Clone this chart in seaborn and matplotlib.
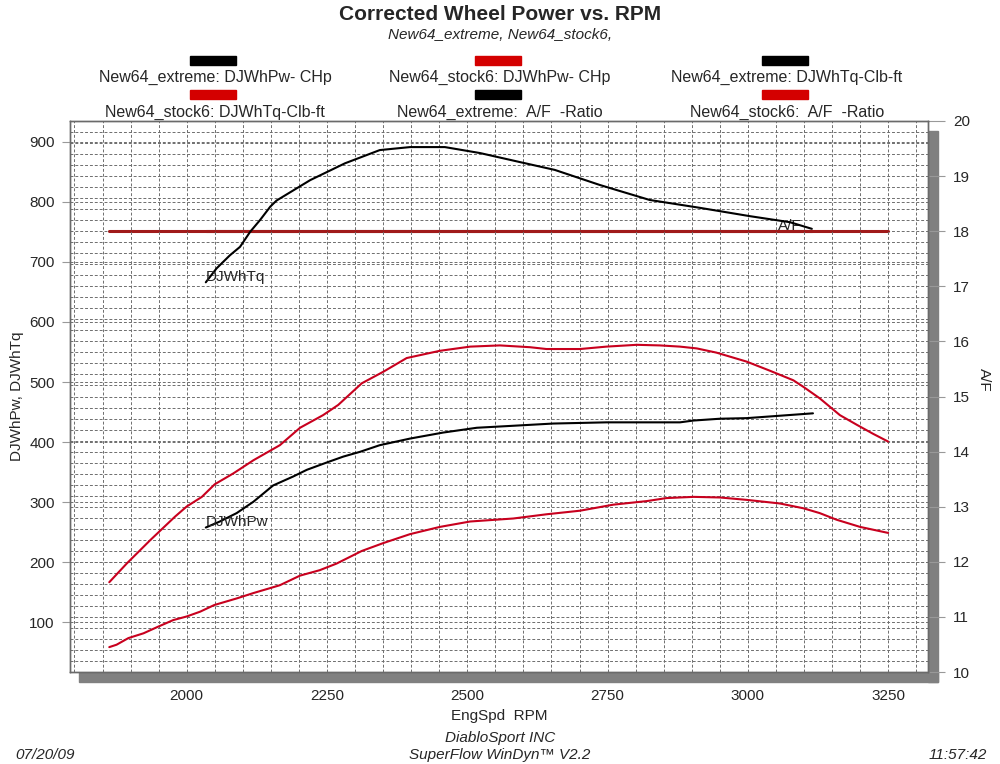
import matplotlib
matplotlib.use('Agg')
import matplotlib.pyplot as plt
import seaborn as sns
import pandas as pd
from matplotlib.ticker import MultipleLocator
from matplotlib.patches import Rectangle

# --- data ---
tq_ext_rpm = [2034, 2053, 2077, 2095, 2113, 2131, 2149, 2160, 2220, 2282, 2344, 2398,
              2460, 2523, 2594, 2656, 2736, 2825, 2914, 3004, 3075, 3114]
tq_ext = [666, 689, 711, 725, 750, 770, 792, 802, 836, 864, 886, 891,
          891, 881, 866, 853, 828, 803, 790, 776, 766, 755]

tq_stock_rpm = [1862, 1893, 1935, 1979, 2000, 2027, 2050, 2083, 2119, 2166, 2202, 2243,
                2270, 2312, 2350, 2392, 2451, 2505, 2558, 2612, 2641, 2701, 2748, 2802,
                2843, 2879, 2909, 2944, 2998, 3039, 3081, 3099, 3128, 3146, 3164, 3194,
                3223, 3250]
tq_stock = [167, 198, 237, 276, 293, 309, 330, 348, 370, 395, 424, 445,
            462, 498, 517, 540, 552, 559, 561, 558, 555, 555, 559, 562,
            561, 559, 556, 549, 534, 519, 503, 492, 473, 459, 445, 429,
            414, 401]

hp_ext_rpm = [2034, 2059, 2089, 2119, 2154, 2190, 2214, 2249, 2279, 2309, 2344, 2398,
              2457, 2517, 2576, 2653, 2748, 2879, 2903, 2950, 2998, 3057, 3116]
hp_ext = [258, 268, 282, 301, 328, 343, 354, 366, 376, 384, 395, 406,
          416, 424, 427, 431, 433, 433, 436, 439, 440, 444, 448]

hp_stock_rpm = [1862, 1875, 1896, 1923, 1949, 1976, 2000, 2024, 2049, 2089, 2119, 2148,
                2166, 2202, 2237, 2267, 2312, 2350, 2398, 2451, 2505, 2582, 2641, 2701,
                2760, 2820, 2855, 2903, 2950, 2998, 3057, 3099, 3128, 3158, 3200, 3250]
hp_stock = [59, 63, 74, 82, 93, 104, 110, 118, 129, 140, 149, 157,
            162, 178, 187, 198, 219, 232, 247, 259, 268, 273, 280, 286,
            296, 302, 307, 309, 308, 304, 298, 290, 282, 271, 259, 249]

af_ext_rpm = [2034, 2500, 3114]
af_ext = [18.0, 18.0, 18.0]
af_stock_rpm = [1862, 2500, 3250]
af_stock = [18.0, 18.0, 18.0]

legend_labels = [
    ['New64_extreme: DJWhPw- CHp', 'New64_stock6: DJWhPw- CHp', 'New64_extreme: DJWhTq-Clb-ft'],
    ['New64_stock6: DJWhTq-Clb-ft', 'New64_extreme:  A/F  -Ratio', 'New64_stock6:  A/F  -Ratio'],
]
legend_colors = [['black', '#D40000', 'black'], ['#D40000', 'black', '#D40000']]

RED = '#C8001E'
AF_RED = '#A01A1A'
GRID = '#6e6e6e'

sns.set_style('white')
plt.rcParams['font.family'] = ['Liberation Sans', 'DejaVu Sans']

fig = plt.figure(figsize=(10, 7.64), dpi=100)
fig.patch.set_facecolor('white')
ax = fig.add_axes([0.070, 1 - 672 / 764, 0.858, 551 / 764])
ax2 = ax.twinx()
ax.set_zorder(ax2.get_zorder() + 1)
ax.patch.set_visible(False)
ax2.patch.set_visible(True)
ax2.patch.set_facecolor('white')

# left axis curves
frames = []
for name, r, v in [('hp_stock', hp_stock_rpm, hp_stock), ('tq_stock', tq_stock_rpm, tq_stock),
                   ('hp_ext', hp_ext_rpm, hp_ext), ('tq_ext', tq_ext_rpm, tq_ext)]:
    frames.append(pd.DataFrame({'rpm': r, 'value': v, 'series': name}))
df = pd.concat(frames, ignore_index=True)
sns.lineplot(data=df, x='rpm', y='value', hue='series', units='series', estimator=None,
             sort=False, palette={'hp_stock': RED, 'tq_stock': RED, 'hp_ext': 'black', 'tq_ext': 'black'},
             lw=1.5, legend=False, ax=ax)

# right axis A/F
af_df = pd.concat([pd.DataFrame({'rpm': af_ext_rpm, 'af': af_ext, 'run': 'ext'}),
                   pd.DataFrame({'rpm': af_stock_rpm, 'af': af_stock, 'run': 'stock'})],
                  ignore_index=True)
sns.lineplot(data=af_df, x='rpm', y='af', hue='run', units='run', estimator=None, sort=False,
             palette={'ext': 'black', 'stock': AF_RED}, lw=2.2, legend=False, ax=ax2)

ax.set_xlim(1792, 3321)
ax.set_ylim(17.6, 934.4)
ax2.set_ylim(10, 20)

ax.set_xticks(range(2000, 3251, 250))
ax.xaxis.set_minor_locator(MultipleLocator(50))
ax.set_yticks(range(100, 901, 100))
ax2.set_yticks(range(10, 21))
ax2.yaxis.set_minor_locator(MultipleLocator(0.2))

dash = (0, (3, 2))
ax.grid(True, which='both', axis='x', ls=dash, color=GRID, lw=0.7)
ax.grid(True, which='major', axis='y', ls=dash, color=GRID, lw=0.7)
ax2.grid(True, which='both', axis='y', ls=dash, color=GRID, lw=0.7)
ax2.grid(False, axis='x')

ax.tick_params(axis='x', which='major', length=9, pad=3, color='#999999', labelsize=11)
ax.tick_params(axis='x', which='minor', length=0)
ax.tick_params(axis='y', length=6, pad=5, color='#999999', labelsize=11)
ax2.tick_params(axis='y', which='major', length=12, pad=6, color='#999999', labelsize=11)
ax2.tick_params(axis='y', which='minor', length=0)

for a in (ax, ax2):
    for s in a.spines.values():
        s.set_visible(True)
        s.set_color('#6a6a6a')
        s.set_linewidth(1)

ax.set_xlabel('EngSpd  RPM', fontsize=11)
ax.xaxis.set_label_coords(0.5, -(716 - 672) / 551)
ax.xaxis.label.set_va('center')
ax.set_ylabel('DJWhPw, DJWhTq', fontsize=11)
ax.yaxis.set_label_coords(-(70 - 17) / 858, 0.5)
ax.yaxis.label.set_va('center')
ax2.set_ylabel('A/F', fontsize=11, rotation=270)
ax2.yaxis.set_label_coords((984 - 70) / 858, (672 - 380) / 551)
ax2.yaxis.label.set_va('center')

# curve tags
ax.text(2034, 669, 'DJWhTq', fontsize=11, va='baseline', ha='left')
ax.text(2034, 261, 'DJWhPw', fontsize=11, va='baseline', ha='left')
ax2.text(3053, 18.03, 'A/F', fontsize=11, va='baseline', ha='left')

# drop shadow of the plot frame
fig.patches.append(Rectangle((928 / 1000, 1 - 682 / 764), 10 / 1000, 551 / 764,
                             transform=fig.transFigure, color='#808080', zorder=-1))
fig.patches.append(Rectangle((79 / 1000, 1 - 682 / 764), 859 / 1000, 10 / 764,
                             transform=fig.transFigure, color='#808080', zorder=-1))

# titles
fig.text(0.5, 1 - 15 / 764, 'Corrected Wheel Power vs. RPM', ha='center', va='center',
         fontsize=15, fontweight='bold')
fig.text(0.5, 1 - 35 / 764, 'New64_extreme, New64_stock6,', ha='center', va='center',
         fontsize=11, style='italic')

# legend grid
col_x = [213, 498, 785]
rect_y = [65, 99]
text_y = [77, 112]
for row in range(2):
    for col in range(3):
        fig.patches.append(Rectangle(((col_x[col] - 23) / 1000, 1 - rect_y[row] / 764), 46 / 1000, 9 / 764,
                                     transform=fig.transFigure, color=legend_colors[row][col]))
        fig.text((col_x[col] + 2) / 1000, 1 - text_y[row] / 764, legend_labels[row][col],
                 ha='center', va='center', fontsize=11.5)

# footer
fig.text(15 / 1000, 1 - 755 / 764, '07/20/09', ha='left', va='center', fontsize=11, style='italic')
fig.text(0.5, 1 - 738 / 764, 'DiabloSport INC', ha='center', va='center', fontsize=11, style='italic')
fig.text(0.5, 1 - 755 / 764, 'SuperFlow WinDyn\u2122 V2.2', ha='center', va='center', fontsize=11, style='italic')
fig.text(987 / 1000, 1 - 755 / 764, '11:57:42', ha='right', va='center', fontsize=11, style='italic')

fig.savefig('out.png', dpi=100)
